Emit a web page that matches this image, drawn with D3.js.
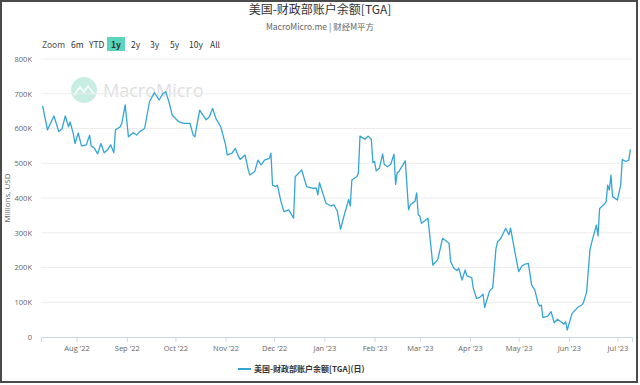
<!DOCTYPE html>
<html>
<head>
<meta charset="utf-8">
<script src="https://cdn.jsdelivr.net/npm/d3@7"></script>
<style>
  body { margin: 0; background: #fff; }
  svg { display: block; font-family: "Noto Sans CJK SC", "Open Sans", sans-serif; }
</style>
</head>
<body>
<div id="chart"></div>
<script>
// TGA balance, millions USD
var dates = [
  "2022-07-11","2022-07-14","2022-07-18","2022-07-21","2022-07-23","2022-07-25","2022-07-27","2022-07-28","2022-07-30","2022-07-31",
  "2022-08-02","2022-08-04","2022-08-07","2022-08-09","2022-08-10","2022-08-12","2022-08-14","2022-08-16","2022-08-18","2022-08-20",
  "2022-08-22","2022-08-24","2022-08-25","2022-08-28","2022-08-29","2022-08-31","2022-09-02","2022-09-05","2022-09-07","2022-09-09",
  "2022-09-12","2022-09-15","2022-09-18","2022-09-21","2022-09-23","2022-09-25","2022-09-27","2022-09-29","2022-10-01","2022-10-03",
  "2022-10-06","2022-10-10","2022-10-12","2022-10-13","2022-10-16","2022-10-20","2022-10-22","2022-10-24","2022-10-26","2022-10-29",
  "2022-11-01","2022-11-02","2022-11-05","2022-11-07","2022-11-09","2022-11-10","2022-11-13","2022-11-15","2022-11-16","2022-11-19",
  "2022-11-21","2022-11-23","2022-11-25","2022-11-28","2022-11-29","2022-11-30","2022-12-02","2022-12-03","2022-12-05","2022-12-07",
  "2022-12-10","2022-12-13","2022-12-14","2022-12-18","2022-12-21","2022-12-25","2022-12-27","2022-12-28","2022-12-29","2022-12-31",
  "2023-01-02","2023-01-05","2023-01-07","2023-01-09","2023-01-11","2023-01-13","2023-01-16","2023-01-17","2023-01-18","2023-01-21",
  "2023-01-22","2023-01-23","2023-01-26","2023-01-28","2023-01-30","2023-01-31","2023-02-01","2023-02-02","2023-02-04","2023-02-06",
  "2023-02-07","2023-02-09","2023-02-11","2023-02-13","2023-02-14","2023-02-15","2023-02-16","2023-02-20","2023-02-22","2023-02-23",
  "2023-02-26","2023-02-27","2023-02-28","2023-03-01","2023-03-02","2023-03-06","2023-03-09","2023-03-12","2023-03-15","2023-03-19",
  "2023-03-20","2023-03-22","2023-03-24","2023-03-25","2023-03-27","2023-03-29","2023-03-30","2023-04-02","2023-04-03","2023-04-05",
  "2023-04-07","2023-04-09","2023-04-10","2023-04-13","2023-04-15","2023-04-17","2023-04-18","2023-04-20","2023-04-23","2023-04-25",
  "2023-04-26","2023-04-29","2023-05-01","2023-05-03","2023-05-05","2023-05-07","2023-05-09","2023-05-11","2023-05-13","2023-05-14",
  "2023-05-15","2023-05-16","2023-05-19","2023-05-21","2023-05-23","2023-05-25","2023-05-27","2023-05-29","2023-05-30","2023-05-31",
  "2023-06-03","2023-06-05","2023-06-07","2023-06-09","2023-06-10","2023-06-12","2023-06-14","2023-06-15","2023-06-18","2023-06-19",
  "2023-06-20","2023-06-23","2023-06-24","2023-06-25","2023-06-26","2023-06-27","2023-06-28","2023-07-01","2023-07-03","2023-07-04",
  "2023-07-06","2023-07-08","2023-07-09"
];
var values = [
  665,596,636,591,599,636,605,619,584,557,
  587,550,553,581,550,543,527,557,530,538,
  553,530,596,605,617,668,576,588,581,591,
  600,677,703,682,699,706,677,639,629,620,
  615,615,581,576,653,625,634,658,629,605,
  553,524,529,543,519,511,524,481,466,476,
  509,495,509,514,529,437,433,437,394,361,
  366,342,461,481,433,428,428,409,444,414,
  385,377,380,362,310,346,396,377,452,461,
  471,578,569,578,569,502,505,478,486,527,
  497,490,497,526,439,473,476,507,366,380,
  391,415,351,348,327,342,207,222,284,270,
  217,198,191,198,164,193,176,171,140,111,
  114,123,85,132,142,255,274,284,313,294,
  313,236,188,204,210,212,150,135,97,89,
  92,56,60,73,41,51,44,37,44,20,
  68,78,87,92,99,130,250,270,322,291,
  370,383,389,437,423,466,404,394,437,511,
  505,509,540
].map(function(v){ return v * 1000; });

var yTicks = [0, 100000, 200000, 300000, 400000, 500000, 600000, 700000, 800000];
var xTickDates = ["2022-08-01","2022-09-01","2022-10-01","2022-11-01","2022-12-01","2023-01-01",
                  "2023-02-01","2023-03-01","2023-04-01","2023-05-01","2023-06-01","2023-07-01"];
var rangeButtons = ["6m", "YTD", "1y", "2y", "3y", "5y", "10y", "All"];

var title = "美国-财政部账户余额[TGA]";
var subtitle = "MacroMicro.me | 财经M平方";
var seriesName = "美国-财政部账户余额[TGA](日)";

var width = 640, height = 385;
var margin = {left: 41, right: 8, top: 59, bottom: 48};
var lineColor = "#35a5d6";

var parse = d3.timeParse("%Y-%m-%d");
var data = dates.map(function(d, i){ return {date: parse(d), value: values[i]}; });

var svg = d3.select("#chart").append("svg")
    .attr("width", width)
    .attr("height", height);

svg.append("rect")
    .attr("x", 1).attr("y", 1)
    .attr("width", width - 4).attr("height", height - 4)
    .attr("fill", "#fff")
    .attr("stroke", "#4a4a4a")
    .attr("stroke-width", 2);

var x = d3.scaleTime()
    .domain([parse("2022-07-10"), parse("2023-07-10")])
    .range([margin.left, width - margin.right]);

var y = d3.scaleLinear()
    .domain([0, 800000])
    .range([height - margin.bottom, margin.top]);

// titles
svg.append("text")
    .attr("x", 320).attr("y", 14)
    .attr("text-anchor", "middle")
    .attr("font-size", 12)
    .attr("fill", "#333")
    .text(title);

svg.append("text")
    .attr("x", 320).attr("y", 30)
    .attr("text-anchor", "middle")
    .attr("font-size", 8.5)
    .attr("fill", "#666")
    .text(subtitle);

// range selector
var rs = svg.append("g").attr("font-size", 8.5).attr("fill", "#333");
rs.append("text").attr("x", 42).attr("y", 48).attr("fill", "#555").text("Zoom");
var bx = [71, 89, 109, 131, 150, 170, 189, 210];
rangeButtons.forEach(function(b, i){
    if (b === "1y") {
        rs.append("rect")
            .attr("x", bx[i] - 2).attr("y", 37)
            .attr("width", 18).attr("height", 14)
            .attr("fill", "#5bd6bc");
    }
    rs.append("text")
        .attr("x", bx[i] + (b === "1y" ? 2 : 0)).attr("y", 48)
        .attr("font-weight", b === "1y" ? "bold" : "normal")
        .text(b);
});

// watermark
var wm = svg.append("g");
wm.append("circle").attr("cx", 84).attr("cy", 90).attr("r", 13).attr("fill", "#c8eee4");
wm.append("path")
    .attr("d", "M74,95 L80,87 L84,92 L88,86 L94,94")
    .attr("fill", "none").attr("stroke", "#fff").attr("stroke-width", 1.5);
wm.append("text")
    .attr("x", 103).attr("y", 97)
    .attr("font-family", "Open Sans, sans-serif")
    .attr("font-size", 18)
    .attr("fill", "#dedede")
    .text("MacroMicro");

// grid
svg.append("g")
    .selectAll("line")
    .data(yTicks.slice(1))
    .enter().append("line")
    .attr("x1", margin.left).attr("x2", width - margin.right)
    .attr("y1", function(d){ return y(d); })
    .attr("y2", function(d){ return y(d); })
    .attr("stroke", "#ececec")
    .attr("stroke-width", 1);

// y axis
var yAxis = svg.append("g")
    .attr("transform", "translate(" + (margin.left - 6) + ",0)")
    .call(d3.axisLeft(y).tickValues(yTicks).tickSize(0)
        .tickFormat(function(d){ return d === 0 ? "0" : (d / 1000) + "K"; }));
yAxis.select(".domain").remove();
yAxis.selectAll("text").attr("font-size", 7.5).attr("fill", "#666").attr("font-family", "Open Sans, sans-serif");

svg.append("text")
    .attr("transform", "translate(10," + ((margin.top + height - margin.bottom) / 2) + ") rotate(-90)")
    .attr("text-anchor", "middle")
    .attr("font-size", 8)
    .attr("fill", "#666")
    .attr("font-family", "Open Sans, sans-serif")
    .text("Millions, USD");

// x axis
var xAxis = svg.append("g")
    .attr("transform", "translate(0," + (height - margin.bottom) + ")")
    .call(d3.axisBottom(x)
        .tickValues(xTickDates.map(parse))
        .tickSize(5)
        .tickPadding(4)
        .tickFormat(d3.timeFormat("%b '%y")));
xAxis.select(".domain").attr("stroke", "#ccd6eb");
xAxis.selectAll(".tick line").attr("stroke", "#ccd6eb");
xAxis.selectAll("text").attr("font-size", 7.5).attr("fill", "#666").attr("font-family", "Open Sans, sans-serif");

// line
var line = d3.line()
    .x(function(d){ return x(d.date); })
    .y(function(d){ return y(d.value); });

svg.append("path")
    .datum(data)
    .attr("d", line)
    .attr("fill", "none")
    .attr("stroke", lineColor)
    .attr("stroke-width", 1.3)
    .attr("stroke-linejoin", "round");

// legend
var lg = svg.append("g");
lg.append("line")
    .attr("x1", 238).attr("x2", 251)
    .attr("y1", 369).attr("y2", 369)
    .attr("stroke", lineColor).attr("stroke-width", 2);
lg.append("text")
    .attr("x", 254).attr("y", 372)
    .attr("font-size", 8)
    .attr("font-weight", "bold")
    .attr("fill", "#333")
    .text(seriesName);
</script>
</body>
</html>
